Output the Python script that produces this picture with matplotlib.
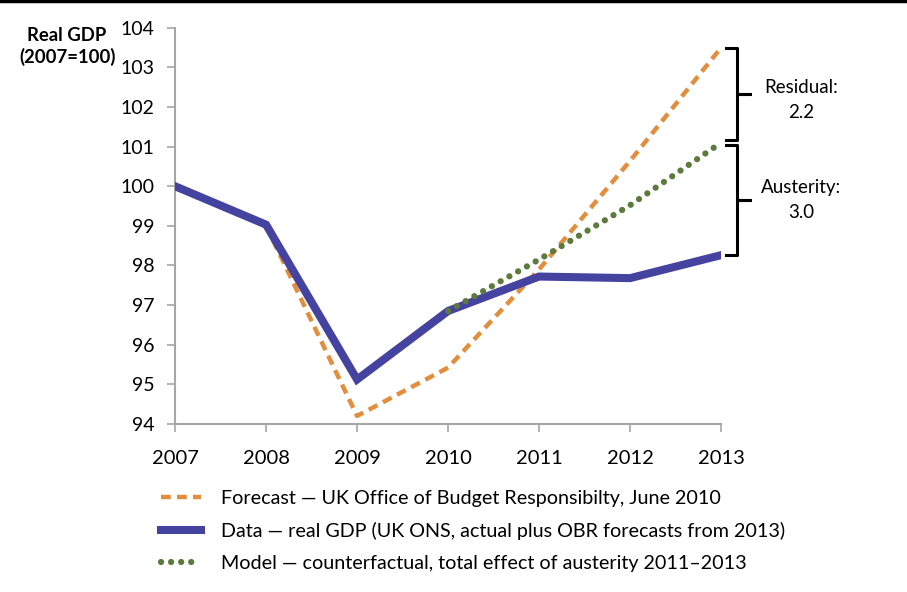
import matplotlib
matplotlib.use('Agg')
import matplotlib.pyplot as plt
from matplotlib.lines import Line2D

plt.rcParams['font.family'] = ['Lato', 'DejaVu Sans']

years = [2007, 2008, 2009, 2010, 2011, 2012, 2013]
data_gdp = [100.0, 99.03, 95.12, 96.85, 97.72, 97.68, 98.26]
fc_years = [2008, 2009, 2010, 2011, 2012, 2013]
forecast = [99.0, 94.2, 95.42, 97.9, 100.64, 103.5]
mod_years = [2010, 2011, 2012, 2013]
model = [96.85, 98.15, 99.52, 101.1]

c_orange = '#E38E3C'
c_blue = '#4443A0'
c_green = '#5C7A3B'
c_axis = '#A6A6A6'

fig = plt.figure(figsize=(9.07, 5.92), dpi=100)
ax = fig.add_axes([0.193, 0.284, 0.602, 0.669])

ax.plot(fc_years, forecast, color=c_orange, lw=3.2, ls=(0, (2.2, 1.4)),
        label='Forecast \u2014 UK Office of Budget Responsibilty, June 2010', zorder=2)
ax.plot(years, data_gdp, color=c_blue, lw=5.8, solid_joinstyle='miter',
        label='Data \u2014 real GDP (UK ONS, actual plus OBR forecasts from 2013)', zorder=3)
ax.plot(mod_years, model, color=c_green, lw=4.5, ls=(0, (0.01, 1.6)),
        dash_capstyle='round', label='Model \u2014 counterfactual, total effect of austerity 2011\u20132013', zorder=4)

ax.set_xlim(2007, 2013)
ax.set_ylim(94, 104)
ax.set_xticks(years)
ax.set_yticks(range(94, 105))
for s in ['top', 'right']:
    ax.spines[s].set_visible(False)
for s in ['left', 'bottom']:
    ax.spines[s].set_color(c_axis)
    ax.spines[s].set_linewidth(1.5)
ax.tick_params(axis='x', length=6, width=1.2, color=c_axis, pad=13, labelsize=14.5)
ax.tick_params(axis='y', length=6, width=1.2, color=c_axis, pad=9, labelsize=14)

fig.text(0.074, 0.955, 'Real GDP\n(2007=100)', ha='center', va='top',
         fontsize=13.3, fontweight='bold', linespacing=1.25)

# braces to the right of the last year
def brace(top, bot, text, shift):
    x0 = 2013.05
    xv = 2013.18
    xt = 2013.32
    mid = (top + bot) / 2
    ax.plot([x0, xv, xv, xt, xv, xv, x0], [top, top, mid, mid, mid, bot, bot],
            color='black', lw=2.2, clip_on=False, solid_joinstyle='round')
    ax.text(2013.88, mid + shift, text, ha='center', va='center', fontsize=13.5,
            linespacing=1.55, clip_on=False)

gap = 0.06
brace(forecast[-1], model[-1] + gap, 'Residual:\n%.1f' % 2.2, -0.15)
brace(model[-1] - gap, data_gdp[-1], 'Austerity:\n%.1f' % 3.0, 0.0)

fig.legend(loc='upper left', bbox_to_anchor=(0.178, 0.172), frameon=False,
           fontsize=14.2, handlelength=2.0, handletextpad=1.0,
           labelspacing=0.76, borderpad=0, borderaxespad=0)

fig.add_artist(Line2D([0, 1], [0.998, 0.998], color='black', lw=2.5,
                      transform=fig.transFigure))

fig.savefig('out.png', dpi=100)
